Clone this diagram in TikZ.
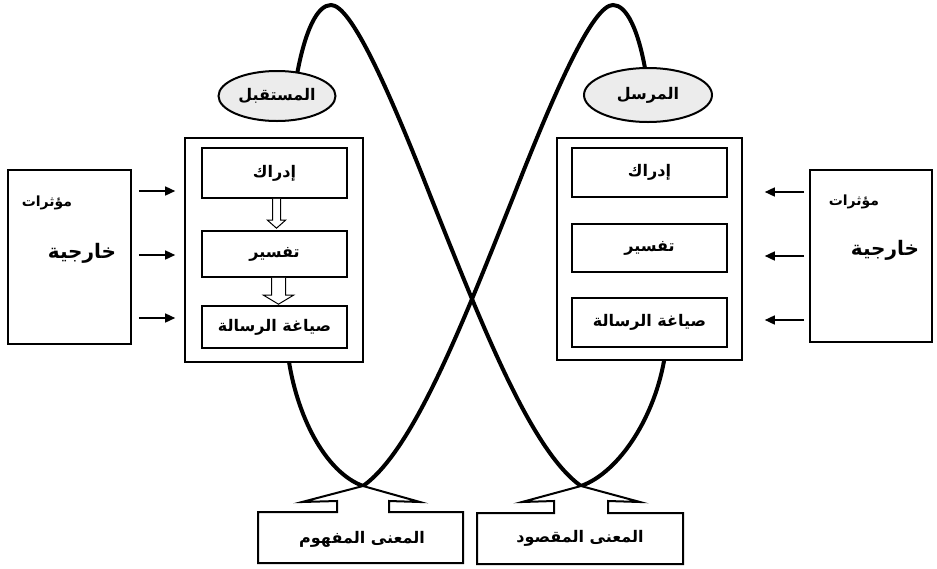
\documentclass[tikz,border=0pt]{standalone}
\usepackage{fontspec}
\TeXXeTstate=1
\newfontfamily\arabicfont[Script=Arabic]{DejaVu Sans}
\usetikzlibrary{calc,shapes.geometric,arrows.meta,backgrounds}
\newcommand\artext[1]{\beginR #1\endR}
\begin{document}
\begin{tikzpicture}[x=1pt,y=-1pt,
  arfont/.style={font=\arabicfont\bfseries\fontsize{#1}{#1}\selectfont},
  bigbox/.style={draw, line width=1.6pt, fill=white, inner sep=0pt},
  stagebox/.style={draw, line width=1.6pt, fill=white, inner sep=0pt, minimum width=145pt, arfont=16},
  rolebubble/.style={ellipse, draw, line width=2pt, fill=gray!15, inner sep=0pt, arfont=16},
  meaningbox/.style={draw, line width=2pt, fill=white, line join=miter},
  bigcurve/.style={line width=4pt, line cap=round},
  sarrow/.style={line width=1.5pt, -{Triangle[length=10pt,width=9pt]}},
  hollow/.style={draw, line width=1pt, fill=white}
]
\useasboundingbox (0,0) rectangle (937,568);

% receiver side
\node[bigbox, minimum width=178pt, minimum height=224pt] (LB) at (274,250) {};
\node[stagebox, minimum height=50pt] (L1) at (274.5,173) {\artext{إدراك}};
\node[stagebox, minimum height=46pt] (L2) at (274.5,254) {\artext{تفسير}};
\node[stagebox, minimum height=42pt] (L3) at (274.5,327) {\artext{صياغة الرسالة}};

% sender side
\node[bigbox, minimum width=185pt, minimum height=222pt] (RB) at (649.5,249) {};
\node[stagebox, minimum width=155pt, minimum height=49pt] (R1) at (649.5,172.5) {\artext{إدراك}};
\node[stagebox, minimum width=155pt, minimum height=48pt] (R2) at (649.5,248) {\artext{تفسير}};
\node[stagebox, minimum width=155pt, minimum height=49pt] (R3) at (649.5,322.5) {\artext{صياغة الرسالة}};

% external influences
\node[bigbox, minimum width=123pt, minimum height=174pt] (LO) at (69.5,257) {};
\node[arfont=14] (LOa) at (47,203) {\artext{مؤثرات}};
\node[arfont=20] (LOb) at (82,253) {\artext{خارجية}};
\node[bigbox, minimum width=122pt, minimum height=172pt] (RO) at (871,256) {};
\node[arfont=14] (ROa) at (854,202) {\artext{مؤثرات}};
\node[arfont=20] (ROb) at (885,250) {\artext{خارجية}};

% roles
\node[rolebubble, minimum width=117pt, minimum height=50pt] (Recv) at (277,96) {\artext{المستقبل}};
\node[rolebubble, minimum width=128pt, minimum height=54pt] (Send) at (648,95) {\artext{المرسل}};

% meaning boxes
\coordinate (apexL) at (363,486);
\coordinate (apexR) at (581,486);
\draw[meaningbox] (258,563) -- (258,512) -- (337,512) -- (337,501) -- (302,502) -- (apexL) -- (420,502) -- (389,501) -- (389,512) -- (463,512) -- (463,563) -- cycle;
\node[arfont=16] (MeanL) at (362,539) {\artext{المعنى المفهوم}};
\draw[meaningbox] (477,564) -- (477,513) -- (554,513) -- (554,501) -- (522,502) -- (apexR) -- (640,502) -- (608,501) -- (608,513) -- (683,513) -- (683,564) -- cycle;
\node[arfont=16] (MeanR) at (580,538) {\artext{المعنى المقصود}};

% small arrows
\foreach \yy in {191,255,318}
  \draw[sarrow] ([xshift=7pt]LO.east |- 0,\yy) -- ([xshift=-9pt]LB.west |- 0,\yy);
\foreach \yy in {192,256,320}
  \draw[sarrow] ([xshift=-5pt]RO.west |- 0,\yy) -- ([xshift=22pt]RB.east |- 0,\yy);

% hollow arrows
\draw[hollow] ($(L1.south)+(-2,0)$) -- ($(L2.north)+(-2,-10)$) -- ($(L2.north)+(-7,-10)$) -- ($(L2.north)+(2,-2)$) -- ($(L2.north)+(11,-10)$) -- ($(L2.north)+(6,-10)$) -- ($(L1.south)+(6,0)$);
\draw[hollow] ($(L2.south)+(-3,0)$) -- ($(L3.north)+(-3,-10)$) -- ($(L3.north)+(-11,-10)$) -- ($(L3.north)+(4,-1)$) -- ($(L3.north)+(19,-10)$) -- ($(L3.north)+(11,-10)$) -- ($(L2.south)+(11,0)$);

% crossing loops
\begin{pgfonlayer}{background}
\draw[bigcurve] (288,355) .. controls (296,415) and (325,472) .. (apexL);
\draw[bigcurve] (296,80) .. controls (305,28) and (318,5) .. (331,5) .. controls (350,5) and (385,80) .. (430,195) .. controls (480,320) and (530,450) .. (apexR);
\draw[bigcurve] (665,355) .. controls (656,415) and (620,472) .. (apexR);
\draw[bigcurve] (647,80) .. controls (639,28) and (626,5) .. (613,5) .. controls (594,5) and (559,80) .. (514,195) .. controls (464,320) and (414,450) .. (apexL);
\end{pgfonlayer}
\end{tikzpicture}
\end{document}
